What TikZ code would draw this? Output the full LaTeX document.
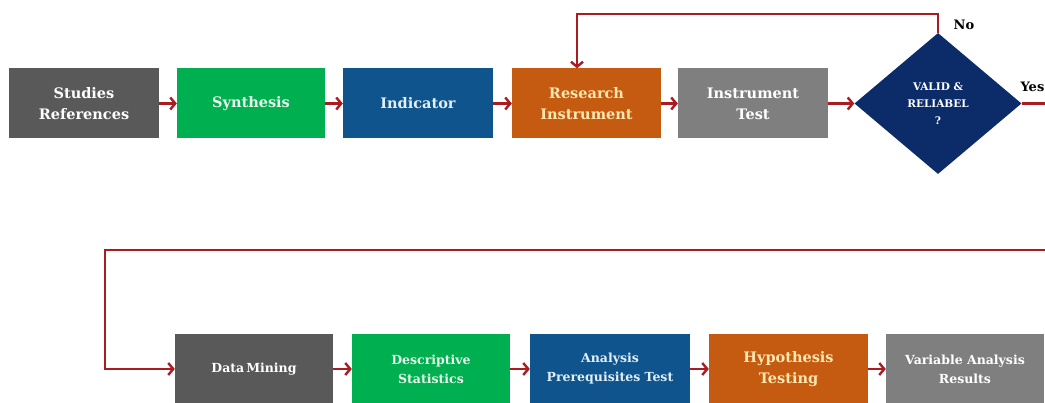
\documentclass[tikz,border=0pt]{standalone}
\usepackage{fontspec}
\setmainfont{DejaVu Serif}
\usetikzlibrary{arrows.meta,shapes.geometric}
\definecolor{cdgray}{HTML}{595959}
\definecolor{cgreen}{HTML}{00B050}
\definecolor{cblue}{HTML}{0F548C}
\definecolor{corange}{HTML}{C55A11}
\definecolor{cgray}{HTML}{7F7F7F}
\definecolor{cnavy}{HTML}{0C2B69}
\definecolor{carrow}{HTML}{A81C22}
\definecolor{tgreen}{HTML}{E8F6EC}
\definecolor{tblue}{HTML}{E2EEF8}
\definecolor{tyellow}{HTML}{FFE8B0}
\begin{document}
\begin{tikzpicture}[x=1pt,y=-1pt,
  box/.style={rectangle, draw=none, minimum height=70pt, inner sep=0pt, align=center, text=white},
  bigtext/.style={font=\bfseries\fontsize{14.5}{21}\selectfont},
  smalltext/.style={font=\bfseries\fontsize{12.5}{19}\selectfont},
  conn/.style={draw=carrow, line width=2.4pt, -{Straight Barb[length=5pt,width=12pt]}},
  lbl/.style={font=\bfseries\fontsize{13}{15}\selectfont, text=black, inner sep=0pt}]
\useasboundingbox (0,0) rectangle (1045,403);
% row 1
\node[box, bigtext, fill=cdgray, minimum width=150pt] (sr) at (84,103.5) {Studies\\References};
\node[box, bigtext, fill=cgreen, minimum width=148pt, text=tgreen] (syn) at (251,103.5) {Synthesis};
\node[box, bigtext, fill=cblue, minimum width=150pt, text=tblue] (ind) at (418,103.5) {Indicator};
\node[box, bigtext, fill=corange, minimum width=149pt, text=tyellow] (ri) at (586.5,103.5) {Research\\Instrument};
\node[box, bigtext, fill=cgray, minimum width=150pt] (it) at (753,103.5) {Instrument\\Test};
\node[diamond, fill=cnavy, minimum width=167pt, minimum height=141pt, inner sep=0pt, aspect=1.18,
      align=center, text=white, font=\bfseries\fontsize{10.5}{17}\selectfont] (dia) at (938,103.5) {VALID \&\\RELIABEL\\?};
% row 2
\node[box, smalltext, fill=cdgray, minimum width=158pt] (dm) at (254,369) {Data\,Mining};
\node[box, smalltext, fill=cgreen, minimum width=158pt, text=tgreen] (ds) at (431,369) {Descriptive\\Statistics};
\node[box, smalltext, fill=cblue, minimum width=160pt, text=tblue] (apt) at (610,369) {Analysis\\Prerequisites Test};
\node[box, bigtext, fill=corange, minimum width=159pt, text=tyellow] (ht) at (788.5,369) {Hypothesis\\Testing};
\node[box, smalltext, fill=cgray, minimum width=158pt] (var) at (965,369) {Variable Analysis\\Results};
% labels
\node[lbl] (no) at (964,25) {No};
\node[lbl, anchor=east] (yes) at (1044.5,87) {Yes};
% coordinates
\coordinate (topl) at (577,14);
\coordinate (outr) at (1070,103.5);
\coordinate (outr2) at (1070,250);
\coordinate (loopl) at (105,250);
% connectors
\draw[conn] (sr.east) -- (syn.west);
\draw[conn] (syn.east) -- (ind.west);
\draw[conn] (ind.east) -- (ri.west);
\draw[conn] (ri.east) -- (it.west);
\draw[conn] (it.east) -- (dia.west);
\draw[conn] (dia.north) -- (dia.north |- topl) -- (topl) -- (topl |- ri.north);
\draw[conn] (dia.east) -- (outr) -- (outr2) -- (loopl) |- (dm.west);
\draw[conn] (dm.east) -- (ds.west);
\draw[conn] (ds.east) -- (apt.west);
\draw[conn] (apt.east) -- (ht.west);
\draw[conn] (ht.east) -- (var.west);
\end{tikzpicture}
\end{document}
